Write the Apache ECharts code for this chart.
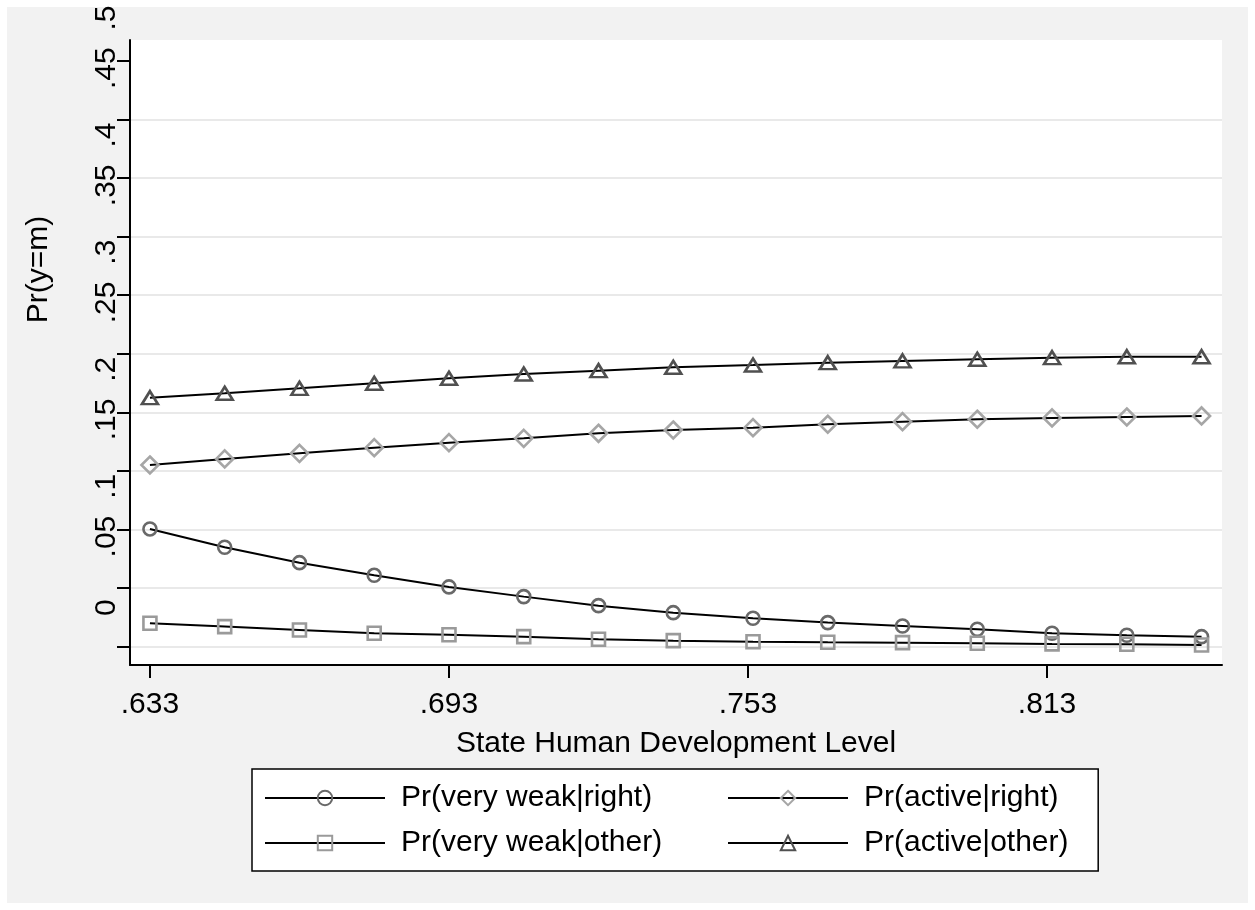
<!DOCTYPE html>
<html>
<head>
<meta charset="utf-8">
<script src="https://cdn.jsdelivr.net/npm/echarts@6/dist/echarts.min.js"></script>
<style>
html,body{margin:0;padding:0;background:#fff;}
#chart{width:1255px;height:910px;}
</style>
</head>
<body>
<div id="chart"></div>
<script>
// ---------------- data ----------------
const xValues = [0.633, 0.648, 0.663, 0.678, 0.693, 0.708, 0.723, 0.738, 0.754, 0.769, 0.784, 0.799, 0.814, 0.829, 0.844];
const veryWeakRight = [0.0504, 0.0348, 0.0216, 0.0108, 0.0009, -0.0074, -0.0151, -0.0211, -0.0259, -0.0296, -0.0325, -0.0353, -0.0387, -0.0404, -0.0416];
const activeRight   = [0.1050, 0.1102, 0.1150, 0.1198, 0.1241, 0.1278, 0.1321, 0.1349, 0.1369, 0.1398, 0.1420, 0.1441, 0.1452, 0.1460, 0.1469];
const veryWeakOther = [-0.0301, -0.0330, -0.0359, -0.0387, -0.0399, -0.0416, -0.0438, -0.0450, -0.0459, -0.0464, -0.0467, -0.0472, -0.0478, -0.0481, -0.0487];
const activeOther   = [0.1625, 0.1663, 0.1705, 0.1748, 0.1791, 0.1827, 0.1856, 0.1885, 0.1904, 0.1924, 0.1939, 0.1953, 0.1967, 0.1975, 0.1975];
const seriesNames = ['Pr(very weak|right)', 'Pr(active|right)', 'Pr(very weak|other)', 'Pr(active|other)'];

const xTickValues = [0.633, 0.693, 0.753, 0.813];
const xTickLabels = ['.633', '.693', '.753', '.813'];
const yTickValues = [-0.05, 0, 0.05, 0.1, 0.15, 0.2, 0.25, 0.3, 0.35, 0.4, 0.45];
const yLabelValues = [0, 0.05, 0.1, 0.15, 0.2, 0.25, 0.3, 0.35, 0.4, 0.45, 0.5];
const yLabelTexts  = ['0', '.05', '.1', '.15', '.2', '.25', '.3', '.35', '.4', '.45', '.5'];
const xTitle = 'State Human Development Level';
const yTitle = 'Pr(y=m)';

// ---------------- layout ----------------
const W = 1255, H = 910;
const GL = 130, GT = 40, GR = 33, GB = 245;
const X_MIN = 0.629, X_MAX = 0.8481;
const Y_MIN = -0.0658, Y_MAX = 0.468;
const plotH = H - GT - GB;
const pxPerUnit = plotH / (Y_MAX - Y_MIN);
const LABEL_SHIFT = 28;
const G2B = GB - LABEL_SHIFT;
const Y2_MAX = Y_MIN + (H - G2B) / pxPerUnit;
const FONT = '"Liberation Sans", Arial, Helvetica, sans-serif';
const FS = 30;

function lookup(vals, texts, v) {
  const i = vals.findIndex(t => Math.abs(t - v) < 1e-9);
  return i >= 0 ? texts[i] : '';
}
function pairs(ys) { return xValues.map((x, i) => [x, ys[i]]); }

function mkSeries(name, ys, symbol, size, stroke) {
  return {
    type: 'line', name: name, data: pairs(ys),
    xAxisIndex: 0, yAxisIndex: 0,
    symbol: symbol, symbolSize: size, showSymbol: true,
    lineStyle: {color: '#000', width: 2},
    itemStyle: {color: 'rgba(255,255,255,0)', borderColor: stroke, borderWidth: 2.6},
    emphasis: {disabled: true},
    z: 3
  };
}

const chart = echarts.init(document.getElementById('chart'), null, {renderer: 'canvas'});
const option = {
  animation: false,
  backgroundColor: '#fff',
  textStyle: {fontFamily: FONT},
  graphic: [{
    type: 'rect', z: -10, silent: true,
    shape: {x: 7, y: 7, width: W - 14, height: H - 14},
    style: {fill: '#f2f2f2'}
  }],
  grid: [
    {left: GL, top: GT, right: GR, bottom: GB, show: true, backgroundColor: '#fff', borderWidth: 0,
     containLabel: false, outerBoundsMode: 'none'},
    {left: GL, top: 0, right: GR, bottom: G2B, show: false,
     containLabel: false, outerBoundsMode: 'none'}
  ],
  xAxis: [
    {
      type: 'value', gridIndex: 0, min: X_MIN, max: X_MAX,
      name: xTitle, nameLocation: 'middle', nameGap: 64,
      nameTextStyle: {fontSize: FS, color: '#000', fontFamily: FONT},
      axisLine: {show: true, onZero: false, lineStyle: {color: '#000', width: 2}},
      axisTick: {show: true, customValues: xTickValues, length: 13, lineStyle: {color: '#000', width: 2}},
      axisLabel: {show: true, customValues: xTickValues, margin: 25, fontSize: FS, color: '#000', fontFamily: FONT,
                  formatter: v => lookup(xTickValues, xTickLabels, v)},
      splitLine: {show: false}
    },
    {type: 'value', gridIndex: 1, min: X_MIN, max: X_MAX, show: false}
  ],
  yAxis: [
    {
      type: 'value', gridIndex: 0, min: Y_MIN, max: Y_MAX,
      name: yTitle, nameLocation: 'middle', nameGap: 76,
      nameTextStyle: {fontSize: FS, color: '#000', fontFamily: FONT, padding: [0, 0, 0, 166]},
      axisLine: {show: true, onZero: false, lineStyle: {color: '#000', width: 2}},
      axisTick: {show: true, customValues: yTickValues, length: 13, lineStyle: {color: '#000', width: 2}},
      axisLabel: {show: false},
      splitLine: {show: true, lineStyle: {width: 2,
        color: yTickValues.map(v => v > 0.44 ? 'rgba(0,0,0,0)' : '#e9e9e9')}}
    },
    {
      type: 'value', gridIndex: 1, min: Y_MIN, max: Y2_MAX,
      axisLine: {show: false}, axisTick: {show: false}, splitLine: {show: false},
      axisLabel: {show: true, customValues: yLabelValues, rotate: 90, align: 'left', verticalAlign: 'bottom',
                  margin: 8, fontSize: FS, color: '#000', fontFamily: FONT,
                  formatter: v => lookup(yLabelValues, yLabelTexts, v)}
    }
  ],
  legend: [
    {
      data: [seriesNames[0], seriesNames[2]], orient: 'vertical', left: 252, top: 769,
      padding: [14, 436, 13, 12], itemGap: 15, itemWidth: 120, itemHeight: 18,
      backgroundColor: '#fff', borderColor: '#000', borderWidth: 1.5, borderRadius: 0,
      selectedMode: false,
      textStyle: {fontSize: FS, color: '#000', fontFamily: FONT, width: 300, padding: [0, 0, 0, 11]}
    },
    {
      data: [seriesNames[1], seriesNames[3]], orient: 'vertical', left: 727, top: 783,
      padding: 0, itemGap: 15, itemWidth: 120, itemHeight: 18, z: 5,
      selectedMode: false,
      textStyle: {fontSize: FS, color: '#000', fontFamily: FONT, padding: [0, 0, 0, 11]}
    }
  ],
  series: [
    mkSeries(seriesNames[0], veryWeakRight, 'circle', 13, '#696969'),
    mkSeries(seriesNames[1], activeRight, 'diamond', 17, '#a6a6a6'),
    mkSeries(seriesNames[2], veryWeakOther, 'rect', 13, '#9a9a9a'),
    mkSeries(seriesNames[3], activeOther, 'triangle', [16, 13], '#505050')
  ]
};
chart.setOption(option);
</script>
</body>
</html>
